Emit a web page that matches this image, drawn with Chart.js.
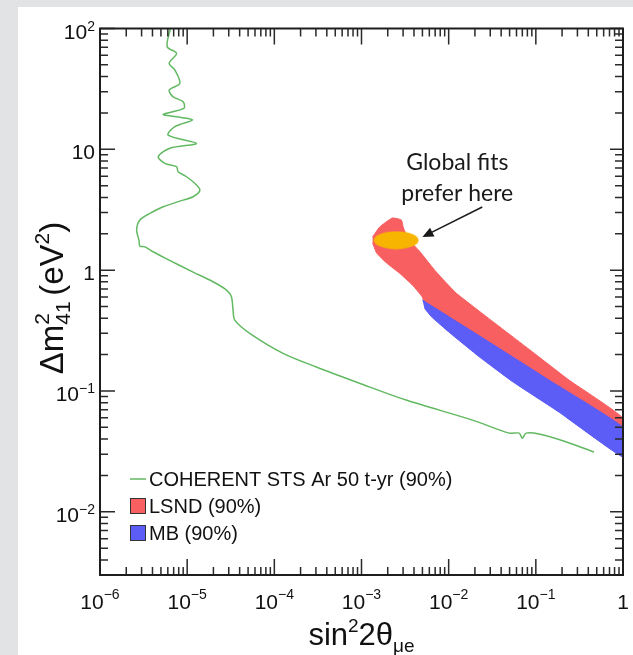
<!DOCTYPE html>
<html>
<head>
<meta charset="utf-8">
<script src="https://cdn.jsdelivr.net/npm/chart.js@4/dist/chart.umd.min.js"></script>
<style>
  html, body { margin: 0; padding: 0; background: #e1e3e5; }
  canvas { display: block; }
</style>
</head>
<body>
<canvas id="exclusionChart" width="633" height="655"></canvas>
<script>
// axis decades and their labels (base, exponent)
const xTicks = [1e-6, 1e-5, 1e-4, 1e-3, 1e-2, 1e-1, 1];
const xTickLabels = [['10', '−6'], ['10', '−5'], ['10', '−4'], ['10', '−3'], ['10', '−2'], ['10', '−1'], ['1', '']];
const yTicks = [1e-2, 1e-1, 1, 10, 100];
const yTickLabels = [['10', '−2'], ['10', '−1'], ['1', ''], ['10', ''], ['10', '2']];

// COHERENT STS Ar 50 t-yr sensitivity (90%)
const coherentX = [6.41e-6, 5.90e-6, 7.55e-6, 6.22e-6, 7.23e-6, 8.24e-6, 6.22e-6, 6.90e-6, 8.99e-6, 9.16e-6,
  5.31e-6, 7.55e-6, 1.15e-5, 7.23e-6, 6.05e-6, 1.28e-5, 6.34e-6, 4.66e-6, 5.55e-6, 7.55e-6,
  7.89e-6, 9.84e-6, 1.22e-5, 1.40e-5, 1.17e-5, 8.99e-6, 5.31e-6, 3.74e-6, 2.87e-6, 2.63e-6,
  2.80e-6, 2.87e-6, 3.27e-6, 4.07e-6, 5.81e-6, 1.17e-5, 1.98e-5, 2.83e-5, 3.22e-5, 3.36e-5,
  3.52e-5, 5.22e-5, 1.26e-4, 3.03e-4, 9.48e-4, 3.25e-3, 1.88e-2, 4.95e-2, 6.44e-2, 6.98e-2,
  7.74e-2, 0.109, 0.221, 0.466];
const coherentY = [100, 70.7, 62.3, 51.5, 45.3, 35.2, 30.9, 27.2, 24.8, 21.8,
  19.5, 18.6, 17.5, 15.4, 13.1, 11.2, 10.2, 8.69, 7.66, 7.18,
  6.53, 5.93, 5.23, 4.60, 4.05, 3.80, 3.35, 2.95, 2.60, 2.15,
  1.77, 1.58, 1.56, 1.42, 1.24, 0.964, 0.802, 0.684, 0.602, 0.468,
  0.386, 0.300, 0.205, 0.158, 0.116, 0.0841, 0.0574, 0.0448, 0.0448, 0.0407,
  0.0448, 0.0440, 0.0380, 0.0312];

// LSND allowed region (90%), closed contour
const lsndX = [1.34e-3, 1.61e-3, 2.26e-3, 2.87e-3, 3.03e-3, 3.55e-3, 4.61e-3, 7.22e-3, 1.22e-2, 2.24e-2,
  7.74e-2, 0.241, 1.0, 1.0, 0.185, 2.24e-2, 7.82e-3, 5.27e-3, 5.0e-3, 3.84e-3,
  2.72e-3, 1.93e-3, 1.49e-3, 1.34e-3];
const lsndY = [1.88, 2.27, 2.70, 2.60, 2.23, 1.77, 1.44, 0.964, 0.646, 0.458,
  0.231, 0.123, 0.0597, 0.0393, 0.0857, 0.240, 0.401, 0.535, 0.598, 0.753,
  0.946, 1.15, 1.39, 1.68];

// MiniBooNE allowed region (90%), closed contour
const mbX = [5.0e-3, 1.16e-2, 2.92e-2, 0.142, 1.0, 1.0, 0.185, 5.36e-2, 2.24e-2, 1.02e-2, 6.34e-3, 5.27e-3];
const mbY = [0.565, 0.386, 0.254, 0.123, 0.0502, 0.0284, 0.0668, 0.120, 0.192, 0.305, 0.412, 0.485];

// global fit best region
const globalFitX = [2.5e-3];
const globalFitY = [1.77];

const FONT = '"Liberation Sans", Arial, Helvetica, sans-serif';

function zip(xs, ys) {
  return xs.map((x, i) => ({ x: x, y: ys[i] }));
}

// ellipse marker for the global fit point
const ellipse = document.createElement('canvas');
ellipse.width = 46;
ellipse.height = 19;
(function () {
  const c = ellipse.getContext('2d');
  c.fillStyle = '#f7b500';
  c.beginPath();
  c.ellipse(23, 9.5, 22.5, 9, 0, 0, Math.PI * 2);
  c.fill();
})();

// draw a run of text pieces (for super/subscripts)
function drawParts(ctx, parts, x, y, align) {
  let total = 0;
  parts.forEach(p => {
    ctx.font = p.s + 'px ' + FONT;
    p.w = ctx.measureText(p.t).width;
    if (p.sub) {
      ctx.font = p.sub.s + 'px ' + FONT;
      p.w = Math.max(p.w, ctx.measureText(p.sub.t).width);
    }
    total += p.w;
  });
  let cx = align === 'center' ? x - total / 2 : (align === 'right' ? x - total : x);
  ctx.textAlign = 'left';
  ctx.textBaseline = 'alphabetic';
  parts.forEach(p => {
    ctx.font = p.s + 'px ' + FONT;
    ctx.fillText(p.t, cx, y + (p.dy || 0));
    if (p.sub) {
      ctx.font = p.sub.s + 'px ' + FONT;
      ctx.fillText(p.sub.t, cx, y + p.sub.dy);
    }
    cx += p.w;
  });
}

const rootStyle = {
  id: 'rootStyle',
  beforeDraw(chart) {
    const ctx = chart.ctx;
    ctx.save();
    ctx.fillStyle = '#e1e3e5';
    ctx.fillRect(0, 0, chart.width, chart.height);
    ctx.fillStyle = '#ffffff';
    ctx.fillRect(18, 7, chart.width - 18, chart.height - 7);
    ctx.restore();
  },
  afterDatasetsDraw(chart) {
    const ctx = chart.ctx;
    const a = chart.chartArea;
    const xs = chart.scales.x, ys = chart.scales.y;
    ctx.save();
    ctx.strokeStyle = '#2a2a2a';
    ctx.lineWidth = 1.5;
    ctx.beginPath();
    // x ticks, inward on bottom and top
    for (let e = -6; e <= 0; e++) {
      for (let m = 1; m <= 9; m++) {
        const v = m * Math.pow(10, e);
        if (v > 1.0001) break;
        const px = xs.getPixelForValue(v);
        const len = m === 1 ? 16 : 8;
        ctx.moveTo(px, a.bottom); ctx.lineTo(px, a.bottom - len);
        ctx.moveTo(px, a.top); ctx.lineTo(px, a.top + len);
      }
    }
    // y ticks, inward on left and right
    for (let e = -3; e <= 2; e++) {
      for (let m = 1; m <= 9; m++) {
        const v = m * Math.pow(10, e);
        if (v < 2.999e-3 || v > 100.01) continue;
        const py = ys.getPixelForValue(v);
        const len = m === 1 ? 15 : 8;
        ctx.moveTo(a.left, py); ctx.lineTo(a.left + len, py);
        ctx.moveTo(a.right, py); ctx.lineTo(a.right - len + (m === 1 ? 2 : 0), py);
      }
    }
    ctx.stroke();
    ctx.lineWidth = 2;
    ctx.strokeStyle = '#1e1e1e';
    ctx.strokeRect(a.left, a.top, a.right - a.left, a.bottom - a.top);
    ctx.restore();
  },
  afterDraw(chart) {
    const ctx = chart.ctx;
    const a = chart.chartArea;
    const xs = chart.scales.x, ys = chart.scales.y;
    ctx.save();
    ctx.fillStyle = '#111';

    // tick labels
    xTicks.forEach((v, i) => {
      const lab = xTickLabels[i];
      const parts = [{ t: lab[0], s: 21 }];
      if (lab[1]) parts.push({ t: lab[1], s: 14, dy: -10 });
      drawParts(ctx, parts, xs.getPixelForValue(v), a.bottom + 34, 'center');
    });
    yTicks.forEach((v, i) => {
      const lab = yTickLabels[i];
      const parts = [{ t: lab[0], s: 21 }];
      if (lab[1]) parts.push({ t: lab[1], s: 14, dy: -8 });
      drawParts(ctx, parts, a.left - 5, ys.getPixelForValue(v) + 10, 'right');
    });

    // axis titles
    drawParts(ctx, [
      { t: 'sin', s: 31 },
      { t: '2', s: 19, dy: -13 },
      { t: '2θ', s: 31 },
      { t: 'μe', s: 19, dy: 7 }
    ], (a.left + a.right) / 2, 645, 'center');

    ctx.save();
    ctx.translate(63, 298);
    ctx.rotate(-Math.PI / 2);
    drawParts(ctx, [
      { t: 'Δm', s: 33 },
      { t: '2', s: 21, dy: -14, sub: { t: '41', s: 21, dy: 7 } },
      { t: ' ', s: 20 },
      { t: '(eV', s: 33 },
      { t: '2', s: 21, dy: -14 },
      { t: ')', s: 33 }
    ], 0, 0, 'center');
    ctx.restore();

    // legend
    const ds = chart.data.datasets;
    const rows = [
      { d: ds[3], kind: 'line' },
      { d: ds[2], kind: 'box' },
      { d: ds[1], kind: 'box' }
    ];
    rows.forEach((r, i) => {
      const cy = 479 + i * 27;
      if (r.kind === 'line') {
        ctx.strokeStyle = r.d.borderColor;
        ctx.lineWidth = 1.5;
        ctx.beginPath();
        ctx.moveTo(130, cy); ctx.lineTo(146, cy);
        ctx.stroke();
      } else {
        ctx.fillStyle = r.d.backgroundColor;
        ctx.fillRect(130, cy - 8, 16, 16);
        ctx.strokeStyle = '#333';
        ctx.lineWidth = 1;
        ctx.strokeRect(130.5, cy - 7.5, 15, 15);
      }
      ctx.fillStyle = '#111';
      ctx.font = '20px ' + FONT;
      ctx.textAlign = 'left';
      ctx.textBaseline = 'alphabetic';
      ctx.fillText(r.d.label, 149, cy + 7);
    });

    // annotation
    const tx = xs.getPixelForValue(0.01256);
    ctx.fillStyle = '#1a1a1a';
    ctx.font = '23px Lato, "Open Sans", sans-serif';
    ctx.textAlign = 'center';
    ctx.fillText('Global fits', tx, ys.getPixelForValue(6.75));
    ctx.fillText('prefer here', tx, ys.getPixelForValue(3.73));

    const x0 = xs.getPixelForValue(0.0243), y0 = ys.getPixelForValue(3.33);
    const x1 = xs.getPixelForValue(5.0e-3), y1 = ys.getPixelForValue(1.88);
    const ang = Math.atan2(y1 - y0, x1 - x0);
    ctx.strokeStyle = '#1a1a1a';
    ctx.lineWidth = 1.5;
    ctx.beginPath();
    ctx.moveTo(x0, y0);
    ctx.lineTo(x1 - 8 * Math.cos(ang), y1 - 8 * Math.sin(ang));
    ctx.stroke();
    ctx.beginPath();
    ctx.moveTo(x1, y1);
    ctx.lineTo(x1 - 11 * Math.cos(ang) + 5 * Math.sin(ang), y1 - 11 * Math.sin(ang) - 5 * Math.cos(ang));
    ctx.lineTo(x1 - 11 * Math.cos(ang) - 5 * Math.sin(ang), y1 - 11 * Math.sin(ang) + 5 * Math.cos(ang));
    ctx.closePath();
    ctx.fill();
    ctx.restore();
  }
};

const ctx = document.getElementById('exclusionChart').getContext('2d');

const chart = new Chart(ctx, {
  type: 'line',
  data: {
    datasets: [
      {
        label: 'Global fit',
        data: zip(globalFitX, globalFitY),
        showLine: false,
        pointStyle: ellipse,
        pointRadius: 10,
        borderWidth: 0
      },
      {
        label: 'MB (90%)',
        data: zip(mbX, mbY),
        backgroundColor: '#5c5cf7',
        borderColor: '#5c5cf7',
        borderWidth: 1,
        fill: 'shape',
        pointRadius: 0,
        tension: 0.1
      },
      {
        label: 'LSND (90%)',
        data: zip(lsndX, lsndY),
        backgroundColor: '#f75f60',
        borderColor: '#f75f60',
        borderWidth: 1,
        fill: 'shape',
        pointRadius: 0,
        tension: 0.15
      },
      {
        label: 'COHERENT STS Ar 50 t-yr (90%)',
        data: zip(coherentX, coherentY),
        borderColor: '#62b962',
        borderWidth: 1.5,
        fill: false,
        pointRadius: 0,
        tension: 0.3
      }
    ]
  },
  options: {
    responsive: false,
    animation: false,
    layout: { padding: { top: 28.5, right: 9, left: 0, bottom: 0 } },
    plugins: {
      legend: { display: false },
      tooltip: { enabled: false }
    },
    scales: {
      x: {
        type: 'logarithmic',
        min: 1e-6,
        max: 1,
        grid: { display: false },
        border: { display: false },
        ticks: { display: false },
        afterFit: s => { s.height = 80; }
      },
      y: {
        type: 'logarithmic',
        min: 3e-3,
        max: 100,
        grid: { display: false },
        border: { display: false },
        ticks: { display: false },
        afterFit: s => { s.width = 100; }
      }
    }
  },
  plugins: [rootStyle]
});
</script>
</body>
</html>
